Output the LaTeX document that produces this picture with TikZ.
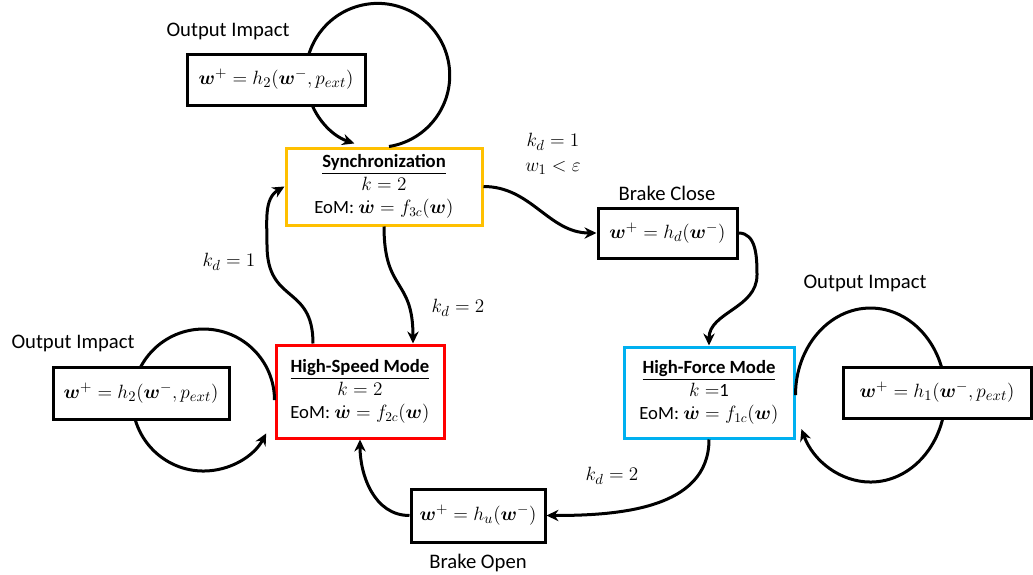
\documentclass[tikz,border=0pt]{standalone}
\usepackage{amsmath,bm}
\usepackage[no-math]{fontspec}
\setmainfont{Carlito}
\usetikzlibrary{arrows.meta,calc}
\definecolor{syncol}{HTML}{FFC000}
\definecolor{hscol}{HTML}{FF0000}
\definecolor{hfcol}{HTML}{00B0F0}
\newcommand{\bw}{\boldsymbol{w}}
\newcommand{\ttl}[1]{\raisebox{0pt}[\height][0pt]{\underline{\textbf{#1}}}}
\begin{document}
\begin{tikzpicture}[x=0.75pt,y=-0.75pt,
  eqbox/.style={draw, line width=2.25pt, fill=white, inner sep=0pt, align=center, font=\fontsize{15.5}{18}\selectfont},
  modebox/.style={draw, line width=2.25pt, fill=white, inner sep=0pt, align=center, font=\fontsize{14}{17}\selectfont},
  lbl/.style={font=\fontsize{15.5}{18}\selectfont, inner sep=0pt},
  mlbl/.style={font=\fontsize{15.5}{19}\selectfont, inner sep=0pt, align=center},
  conn/.style={line width=2.25pt, -{Stealth[length=9pt,width=8.5pt]}},
]
\useasboundingbox (0,0) rectangle (1033,575);

% mode nodes
\node[modebox, draw=syncol, minimum width=147pt, minimum height=57.75pt] (sync) at (384,186.5)
  {\ttl{Synchronization}\\ $k=2$\\ EoM: $\dot{\bw}=f_{3c}(\bw)$};
\node[modebox, draw=hscol, minimum width=126pt, minimum height=69.75pt] (hs) at (360,391.5)
  {\ttl{High-Speed Mode}\\ $k=2$\\ EoM: $\dot{\bw}=f_{2c}(\bw)$};
\node[modebox, draw=hfcol, minimum width=127.5pt, minimum height=68.25pt] (hf) at (709,392.5)
  {\ttl{High-Force Mode}\\ $k =$1\\ EoM: $\dot{\bw}=f_{1c}(\bw)$};

% self loops (drawn under the impact boxes)
\draw[conn] ([xshift=3.75pt]sync.north) arc[start angle=-81, end angle=251, radius=54pt];
\draw[conn] ([yshift=-6.4pt]hs.west) arc[start angle=0, end angle=332, radius=53.25pt];
\draw[conn] ([yshift=-1.9pt]hf.east) arc[start angle=180, end angle=-157, x radius=56.25pt, y radius=65.25pt];

% impact / brake boxes
\node[eqbox, minimum width=133.5pt, minimum height=38.25pt] (o1) at (276,79.5)
  {$\bw^{+}=h_2(\bw^{-},p_{ext})$};
\node[eqbox, minimum width=132pt, minimum height=39pt] (o2) at (141,393)
  {$\bw^{+}=h_2(\bw^{-},p_{ext})$};
\node[eqbox, minimum width=141pt, minimum height=38.25pt] (o3) at (937,392.5)
  {$\bw^{+}=h_1(\bw^{-},p_{ext})$};
\node[eqbox, minimum width=104.25pt, minimum height=37.5pt] (bc) at (667.5,233)
  {$\bw^{+}=h_d(\bw^{-})$};
\node[eqbox, minimum width=100.5pt, minimum height=39.75pt] (bo) at (478,515.5)
  {$\bw^{+}=h_u(\bw^{-})$};

% helper coordinates
\coordinate (bcturn) at (757,275);
\coordinate (hsup) at (267,245);

% connectors
\draw[conn] (sync.east) to[out=0,in=180] (bc.west);
\draw[conn] (bc.east) to[out=0,in=90] (bcturn) to[out=-90,in=90] (hf.north);
\draw[conn] (sync.south) to[out=-90,in=90,looseness=1.4] ([xshift=39.75pt]hs.north);
\draw[conn] ([xshift=-35.25pt]hs.north) to[out=90,in=-90,looseness=1.4] (hsup) to[out=90,in=210] (sync.west);
\draw[conn] (hf.south) to[out=-90,in=0] (bo.east);
\draw[conn] (bo.west) to[out=180,in=-90] (hs.south);

% labels
\node[lbl] (l1) at (228,31) {Output Impact};
\node[lbl] (l2) at (73,343) {Output Impact};
\node[lbl] (l3) at (865,283) {Output Impact};
\node[lbl] (l4) at (667,193) {Brake Close};
\node[lbl] (l5) at (478,563) {Brake Open};
\node[mlbl] (c1) at (553,154) {$k_d=1$\\ $w_1<\varepsilon$};
\node[mlbl] (c2) at (229,262) {$k_d=1$};
\node[mlbl] (c3) at (458,308) {$k_d=2$};
\node[mlbl] (c4) at (612,476) {$k_d=2$};
\end{tikzpicture}
\end{document}
